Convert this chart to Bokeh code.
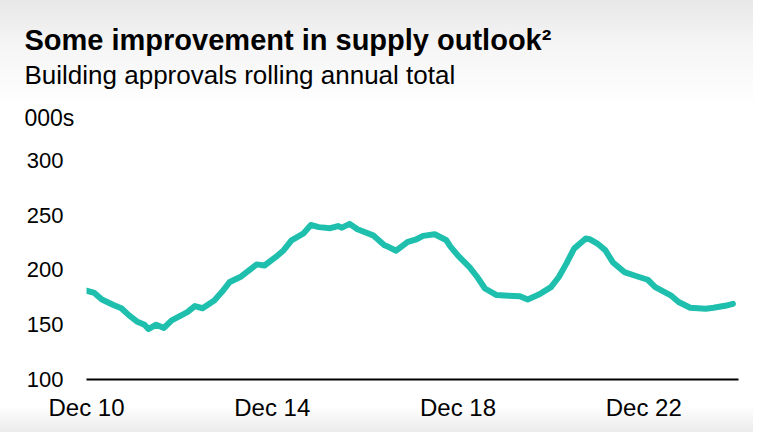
import pandas as pd
from bokeh.plotting import figure
from bokeh.models import Title, FixedTicker, DatetimeTickFormatter, Range1d
from bokeh.embed import file_html
from bokeh.resources import INLINE

# ---- data ----
dates = ["2010-12", "2011-02", "2011-04", "2011-07", "2011-09", "2011-11",
         "2012-01", "2012-03", "2012-04", "2012-06", "2012-08", "2012-10",
         "2013-02", "2013-04", "2013-06", "2013-09", "2013-11",
         "2014-01", "2014-04", "2014-06", "2014-08", "2014-10",
         "2015-01", "2015-03", "2015-05", "2015-08", "2015-10", "2015-12",
         "2016-03", "2016-05", "2016-06", "2016-08", "2016-10",
         "2017-02", "2017-05", "2017-06", "2017-08", "2017-11",
         "2018-01", "2018-03", "2018-06", "2018-09", "2018-10", "2018-12",
         "2019-03", "2019-05", "2019-07", "2019-10",
         "2020-01", "2020-04", "2020-06", "2020-09", "2020-12",
         "2021-02", "2021-04", "2021-06", "2021-09", "2021-10", "2021-12",
         "2022-02", "2022-04", "2022-07", "2022-10",
         "2023-01", "2023-03", "2023-07", "2023-09", "2023-12",
         "2024-04", "2024-06", "2024-09", "2024-11"]
approvals = [181, 179, 173, 168, 165, 158.5,
             153, 150, 146, 150, 147, 154,
             161.5, 167, 165, 172, 180,
             189, 194, 199.6, 205, 204,
             212, 218, 227, 233, 241, 239,
             238, 240, 238.5, 242, 237,
             231.5, 222.5, 221, 217.5, 225.5,
             227.5, 231, 232.5, 227, 221.5, 213,
             202.5, 193.5, 183, 177,
             176.5, 176, 173, 177.7, 184.3,
             193.5, 205.7, 219.4, 228.6, 228, 224,
             218, 207, 198, 194.4,
             191, 184.3, 176.8, 170.7, 165.4,
             164.6, 165.4, 167.2, 169]
tick_dates = ["2010-12", "2014-12", "2018-12", "2022-12"]
y_ticks = [100, 150, 200, 250, 300]
title_text = "Some improvement in supply outlook\u00b2"
subtitle_text = "Building approvals rolling annual total"
unit_text = "000s"

x = pd.to_datetime(dates, format="%Y-%m")
ticks_ms = [pd.Timestamp(d).value / 1e6 for d in pd.to_datetime(tick_dates, format="%Y-%m")]

W, H = 753, 432
FONT = "Liberation Sans"

p = figure(width=W, height=H, output_backend="svg", toolbar_location=None, title=None,
           x_axis_type="datetime",
           x_range=Range1d(pd.Timestamp("2010-12-01"), pd.Timestamp("2024-12-15")),
           y_range=Range1d(100, 317.1),
           min_border_left=86, min_border_right=15,
           min_border_top=141, min_border_bottom=53)
p.outline_line_color = None
p.background_fill_color = None
p.border_fill_color = None
p.styles = {"background": "linear-gradient(to bottom, #e8e8e8 0px, #f5f5f5 45px, #ffffff 108px, "
                          "#ffffff 406px, #ebebeb 432px)"}
p.grid.visible = False

p.line(x, approvals, line_color="#1fbfae", line_width=6, line_join="round", line_cap="round")

xa = p.xaxis[0]
xa.ticker = FixedTicker(ticks=ticks_ms)
fmt = "%b %y"
xa.formatter = DatetimeTickFormatter(years=fmt, months=fmt, days=fmt, hours=fmt,
                                     minutes=fmt, seconds=fmt, milliseconds=fmt,
                                     microseconds=fmt, hourmin=fmt, minsec=fmt)
xa.axis_line_color = "#000000"
xa.axis_line_width = 2
xa.major_tick_line_color = None
xa.minor_tick_line_color = None
xa.major_tick_out = 0
xa.major_tick_in = 0
xa.major_label_standoff = 14
xa.major_label_text_font = FONT
xa.major_label_text_font_size = "24px"
xa.major_label_text_color = "#000000"

ya = p.yaxis[0]
ya.ticker = FixedTicker(ticks=y_ticks)
ya.axis_line_color = None
ya.major_tick_line_color = None
ya.minor_tick_line_color = None
ya.major_tick_out = 0
ya.major_tick_in = 0
ya.major_label_standoff = 23
ya.major_label_text_font = FONT
ya.major_label_text_font_size = "22px"
ya.major_label_text_color = "#000000"

# header texts, stacked above the frame (first added = nearest to frame)
p.add_layout(Title(text=unit_text, text_font=FONT, text_font_size="23px",
                   text_font_style="normal", text_color="#000000", align="left",
                   vertical_align="bottom", offset=-62, standoff=21.2), "above")
p.add_layout(Title(text=subtitle_text, text_font=FONT, text_font_size="26px",
                   text_font_style="normal", text_color="#000000", align="left",
                   vertical_align="bottom", offset=-62, standoff=5.4), "above")
p.add_layout(Title(text=title_text, text_font=FONT, text_font_size="29px",
                   text_font_style="bold", text_color="#000000", align="left",
                   vertical_align="bottom", offset=-62, standoff=0), "above")

open("out.html", "w").write(file_html(p, INLINE))
